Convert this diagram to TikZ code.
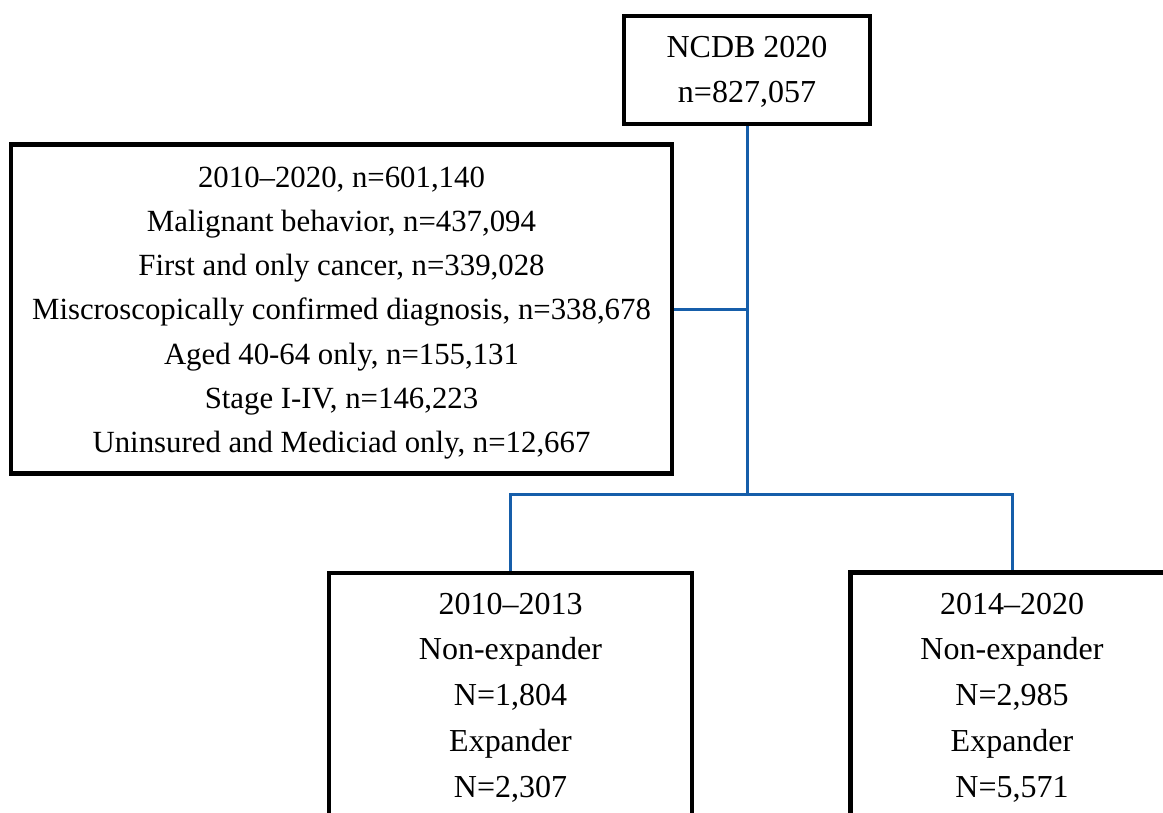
\documentclass[tikz,border=0pt]{standalone}
\usepackage{fontspec}
\setmainfont{Liberation Serif}
\definecolor{connblue}{RGB}{22,94,170}
\begin{document}
\begin{tikzpicture}[x=1pt,y=-1pt,
  box/.style={draw=black,line width=4.5pt,rectangle,inner sep=0pt,fill=white},
  boxtext/.style={inner sep=0pt,align=center},
  conn/.style={draw=connblue,line width=3pt}]
\useasboundingbox (0,0) rectangle (1163,812);
\clip (0,0) rectangle (1163,812);
% boxes
\node[box,minimum width=246pt,minimum height=108pt] (top) at (747,70) {};
\node[box,minimum width=661pt,minimum height=329pt] (crit) at (341.5,309) {};
\node[box,minimum width=363pt,minimum height=247pt] (bl) at (510.5,696.5) {};
\node[box,minimum width=323pt,minimum height=247pt] (br) at (1012,696) {};
% texts
\node[boxtext,font=\fontsize{32}{45}\selectfont] (toptext) at ([yshift=-2pt]top.center)
  {NCDB 2020\\n=827,057};
\node[boxtext,font=\fontsize{30.8}{44.2}\selectfont] (crittext) at (341.5,313)
  {2010--2020, n=601,140\\Malignant behavior, n=437,094\\First and only cancer, n=339,028\\Miscroscopically confirmed diagnosis, n=338,678\\Aged 40-64 only, n=155,131\\Stage I-IV, n=146,223\\Uninsured and Mediciad only, n=12,667};
\node[boxtext,font=\fontsize{32}{45.8}\selectfont] (bltext) at (510.5,697.5)
  {2010--2013\\Non-expander\\N=1,804\\Expander\\N=2,307};
\node[boxtext,font=\fontsize{32}{45.8}\selectfont] (brtext) at (1012,697.5)
  {2014--2020\\Non-expander\\N=2,985\\Expander\\N=5,571};
% connectors
\coordinate (hub) at (747,494);
\draw[conn] (top.south) -- (hub);
\draw[conn] (crit.east) -- (crit.east -| hub);
\draw[conn] (bl.north) -- (bl.north |- hub) -- (br.north |- hub) -- (br.north);
\end{tikzpicture}
\end{document}
